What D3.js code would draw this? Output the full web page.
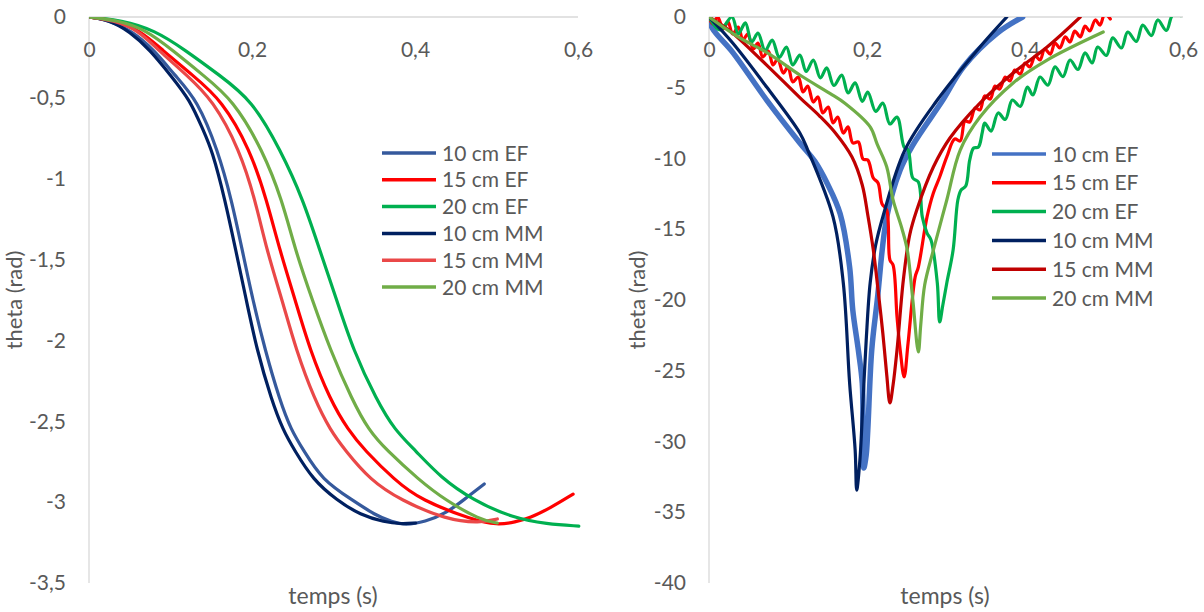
<!DOCTYPE html>
<html><head><meta charset="utf-8">
<script src="https://cdn.jsdelivr.net/npm/d3@7"></script>
<style>
body{margin:0;background:#fff}
svg text{font-family:Lato,"Open Sans",sans-serif;fill:#595959}
</style>
</head><body>
<svg id="c" width="1204" height="612"></svg>
<script>
// ---------- DATA ----------
const seriesNames = ["10 cm EF","15 cm EF","20 cm EF","10 cm MM","15 cm MM","20 cm MM"];
const xTicks = [0, 0.2, 0.4, 0.6];
const leftYTicks = [0,-0.5,-1,-1.5,-2,-2.5,-3,-3.5];
const rightYTicks = [0,-5,-10,-15,-20,-25,-30,-35,-40];
const xTitle = "temps (s)";
const yTitle = "theta (rad)";

// Left panel: theta (rad) vs time (s)
const left10EF = [[0,0],[0.025,-0.02],[0.052,-0.085],[0.080,-0.204],[0.105,-0.36],[0.133,-0.513],[0.158,-0.823],[0.175,-1.132],[0.188,-1.441],[0.201,-1.750],[0.216,-2.059],[0.234,-2.369],[0.248,-2.554],[0.263,-2.678],[0.286,-2.863],[0.323,-2.987],[0.351,-3.080],[0.372,-3.123],[0.388,-3.142],[0.412,-3.123],[0.439,-3.067],[0.461,-2.981],[0.485,-2.888]];
const left15EF = [[0,0],[0.03,-0.02],[0.062,-0.08],[0.090,-0.204],[0.127,-0.36],[0.163,-0.513],[0.198,-0.823],[0.218,-1.132],[0.234,-1.441],[0.253,-1.750],[0.271,-2.059],[0.296,-2.369],[0.318,-2.554],[0.338,-2.678],[0.375,-2.863],[0.407,-2.987],[0.471,-3.110],[0.501,-3.142],[0.523,-3.123],[0.541,-3.098],[0.566,-3.036],[0.594,-2.950]];
const left20EF = [[0,0],[0.04,-0.02],[0.08,-0.08],[0.118,-0.204],[0.160,-0.36],[0.200,-0.513],[0.235,-0.823],[0.263,-1.132],[0.283,-1.441],[0.304,-1.750],[0.324,-2.059],[0.353,-2.369],[0.375,-2.554],[0.400,-2.678],[0.432,-2.850],[0.471,-2.987],[0.520,-3.098],[0.562,-3.135],[0.601,-3.148]];
const left10MM = [[0,0],[0.025,-0.02],[0.050,-0.09],[0.075,-0.204],[0.100,-0.36],[0.124,-0.513],[0.140,-0.70],[0.151,-0.823],[0.167,-1.132],[0.180,-1.441],[0.193,-1.750],[0.206,-2.059],[0.224,-2.369],[0.238,-2.554],[0.252,-2.678],[0.275,-2.863],[0.304,-2.987],[0.333,-3.080],[0.363,-3.123],[0.382,-3.135],[0.401,-3.129]];
const left15MM = [[0,0],[0.03,-0.02],[0.06,-0.08],[0.085,-0.204],[0.12,-0.36],[0.152,-0.513],[0.185,-0.823],[0.204,-1.132],[0.218,-1.441],[0.237,-1.750],[0.254,-2.059],[0.277,-2.369],[0.296,-2.554],[0.314,-2.678],[0.345,-2.863],[0.382,-2.987],[0.439,-3.110],[0.480,-3.129],[0.501,-3.104]];
const left20MM = [[0,0],[0.035,-0.02],[0.07,-0.08],[0.102,-0.204],[0.140,-0.36],[0.177,-0.513],[0.213,-0.823],[0.237,-1.132],[0.253,-1.441],[0.274,-1.750],[0.296,-2.059],[0.323,-2.369],[0.343,-2.554],[0.365,-2.678],[0.405,-2.863],[0.437,-2.987],[0.480,-3.110],[0.501,-3.129]];

// Right panel
const right10EF = [[0,0],[0.004,-0.78],[0.030,-2.5],[0.073,-5.87],[0.115,-8.9],[0.134,-10.2],[0.150,-11.8],[0.166,-13.9],[0.178,-17.67],[0.182,-20.71],[0.189,-23.53],[0.194,-25.87],[0.195,-29.40],[0.196,-31.87],[0.199,-30.95],[0.201,-29.19],[0.206,-23.53],[0.213,-20.00],[0.225,-14.13],[0.242,-10.81],[0.258,-9.05],[0.296,-5.87],[0.322,-3.53],[0.365,-1.13],[0.397,0]];
const right15EF = [[0,0],[0.005,-0.49],[0.011,0],[0.018,-0.85],[0.024,-0.35],[0.030,-1.20],[0.037,-0.71],[0.043,-1.63],[0.049,-1.20],[0.056,-2.26],[0.062,-1.84],[0.068,-2.83],[0.075,-2.40],[0.081,-3.39],[0.087,-2.97],[0.094,-3.96],[0.100,-3.53],[0.106,-4.59],[0.113,-4.24],[0.119,-5.30],[0.125,-4.88],[0.132,-6.01],[0.138,-5.65],[0.144,-6.78],[0.151,-6.36],[0.157,-7.49],[0.163,-7.07],[0.170,-8.20],[0.176,-7.77],[0.182,-8.90],[0.189,-8.83],[0.195,-10.04],[0.201,-10.11],[0.208,-11.38],[0.214,-11.73],[0.219,-13.20],[0.225,-13.64],[0.229,-17.17],[0.233,-17.53],[0.238,-21.20],[0.242,-23.53],[0.247,-25.44],[0.252,-23.04],[0.261,-18.37],[0.265,-17.67],[0.276,-14.13],[0.284,-12.44],[0.292,-11.31],[0.301,-9.89],[0.311,-8.62],[0.318,-8.76],[0.324,-7.35],[0.330,-7.42],[0.337,-6.43],[0.343,-6.57],[0.349,-5.58],[0.356,-5.80],[0.362,-4.88],[0.368,-5.09],[0.375,-4.24],[0.381,-4.52],[0.387,-3.75],[0.394,-4.03],[0.400,-3.25],[0.406,-3.53],[0.413,-2.76],[0.419,-3.04],[0.425,-2.26],[0.432,-2.62],[0.438,-1.84],[0.444,-2.19],[0.451,-1.41],[0.457,-1.77],[0.463,-0.99],[0.470,-1.41],[0.476,-0.64],[0.482,-0.99],[0.489,-0.21],[0.495,-0.57],[0.501,0.21],[0.508,-0.14]];
const right20EF = [[0,0],[0.014,-0.92],[0.029,0],[0.037,-1.20],[0.046,-0.42],[0.054,-1.77],[0.062,-1.13],[0.071,-2.37],[0.080,-1.63],[0.089,-2.86],[0.098,-2.12],[0.106,-3.39],[0.115,-2.69],[0.123,-3.85],[0.132,-3.04],[0.141,-4.31],[0.149,-3.60],[0.158,-4.84],[0.168,-4.10],[0.176,-5.37],[0.185,-4.66],[0.194,-5.97],[0.201,-5.30],[0.211,-6.68],[0.220,-6.08],[0.229,-7.56],[0.238,-7.07],[0.247,-9.19],[0.252,-9.40],[0.258,-11.38],[0.265,-11.66],[0.270,-14.13],[0.276,-15.27],[0.281,-15.76],[0.289,-18.80],[0.292,-21.55],[0.296,-20.35],[0.301,-18.80],[0.309,-16.47],[0.315,-12.93],[0.319,-12.23],[0.325,-11.94],[0.330,-10.11],[0.335,-9.26],[0.341,-9.19],[0.346,-8.13],[0.349,-7.49],[0.357,-8.06],[0.366,-6.78],[0.375,-7.24],[0.384,-5.87],[0.394,-6.32],[0.403,-4.95],[0.410,-5.51],[0.419,-4.24],[0.429,-4.81],[0.438,-3.53],[0.448,-4.21],[0.457,-3.04],[0.467,-3.71],[0.476,-2.54],[0.485,-3.25],[0.492,-2.12],[0.503,-2.72],[0.511,-1.48],[0.522,-2.19],[0.530,-1.06],[0.541,-1.73],[0.549,-0.57],[0.560,-1.31],[0.568,-0.21],[0.579,-0.95],[0.587,0.14],[0.597,0.1]];
const right10MM = [[0,0],[0.030,-1.84],[0.073,-4.95],[0.115,-8.20],[0.125,-9.40],[0.157,-14.13],[0.170,-18.80],[0.178,-25.87],[0.185,-30.60],[0.187,-33.43],[0.191,-31.31],[0.195,-27.07],[0.199,-22.83],[0.204,-18.80],[0.211,-16.11],[0.220,-14.13],[0.248,-9.40],[0.289,-5.87],[0.343,-2.12],[0.377,0]];
const right15MM = [[0,0],[0.027,-1.0],[0.073,-3.4],[0.115,-5.7],[0.140,-7.0],[0.160,-8.2],[0.181,-9.9],[0.194,-11.87],[0.201,-13.99],[0.208,-16.47],[0.214,-19.29],[0.220,-22.33],[0.225,-25.30],[0.229,-27.28],[0.233,-26.01],[0.238,-23.53],[0.246,-18.59],[0.254,-15.41],[0.263,-13.64],[0.284,-10.60],[0.305,-8.55],[0.343,-6.08],[0.385,-3.96],[0.428,-2.12],[0.470,0]];
const right20MM = [[0,0],[0.039,-1.48],[0.073,-2.5],[0.115,-4.1],[0.153,-5.4],[0.172,-6.1],[0.204,-7.77],[0.213,-9.00],[0.225,-10.60],[0.233,-12.93],[0.244,-14.91],[0.251,-16.47],[0.258,-20.00],[0.265,-23.67],[0.268,-21.77],[0.273,-18.94],[0.284,-16.47],[0.301,-12.93],[0.318,-9.40],[0.343,-7.07],[0.385,-4.66],[0.428,-3.04],[0.499,-1.06]];

// ---------- STYLE ----------
const leftColors  = ["#35599C","#FF0000","#00B050","#002060","#EA4848","#70AD47"];
const rightColors = ["#4472C4","#FF0000","#00B050","#002060","#C00000","#70AD47"];

const locale = d3.formatLocale({decimal:",",thousands:" ",grouping:[3],currency:["","€"],minus:"-"});
const fmt = locale.format("~g");

const svg = d3.select("#c");

function panel(cfg){
  const x = d3.scaleLinear().domain([0,0.6]).range([cfg.x0,cfg.x1]);
  const y = d3.scaleLinear().domain(cfg.yDomain).range([583,17]);
  const g = svg.append("g");
  const clipId = "clip"+cfg.id;
  svg.append("clipPath").attr("id",clipId).append("rect")
    .attr("x",cfg.x0).attr("y",17).attr("width",cfg.x1-cfg.x0+10).attr("height",566);

  g.append("line").attr("x1",cfg.x0).attr("x2",cfg.x1).attr("y1",y(0)).attr("y2",y(0))
    .attr("stroke","#d9d9d9").attr("stroke-width",1.3);
  g.append("line").attr("x1",cfg.x0).attr("x2",cfg.x0).attr("y1",17).attr("y2",583)
    .attr("stroke","#d9d9d9").attr("stroke-width",1.3);

  const xa = g.append("g").attr("transform",`translate(0,${y(0)})`)
    .call(d3.axisBottom(x).tickValues(xTicks).tickFormat(fmt).tickSize(0).tickPadding(25));
  const ya = g.append("g").attr("transform",`translate(${cfg.x0},0)`)
    .call(d3.axisLeft(y).tickValues(cfg.yTicks).tickFormat(fmt).tickSize(0).tickPadding(23));
  [xa,ya].forEach(a=>{a.select(".domain").remove();
    a.selectAll("text").attr("fill","#595959").style("font-size","21px").style("font-family","Lato,'Open Sans',sans-serif");});

  g.append("text").attr("x",cfg.xTitleX).attr("y",604).attr("text-anchor","middle")
    .style("font-size","23px").text(xTitle);
  g.append("text").attr("transform",`translate(${cfg.yTitleX},300) rotate(-90)`)
    .attr("text-anchor","middle").style("font-size","22px").text(yTitle);

  const line = d3.line().x(d=>x(d[0])).y(d=>y(d[1])).curve(cfg.curve);
  const lg = g.append("g").attr("clip-path",`url(#${clipId})`);
  cfg.series.forEach((s,i)=>{
    lg.append("path").datum(s).attr("d",line).attr("fill","none")
      .attr("stroke",cfg.colors[i]).attr("stroke-width",cfg.widths[i])
      .attr("stroke-linejoin","round").attr("stroke-linecap","round");
  });

  const leg = g.append("g");
  seriesNames.forEach((n,i)=>{
    const yy = cfg.legY + i*cfg.legStep;
    leg.append("line").attr("x1",cfg.legX).attr("x2",cfg.legX+54).attr("y1",yy).attr("y2",yy)
      .attr("stroke",cfg.colors[i]).attr("stroke-width",3.5);
    leg.append("text").attr("x",cfg.legX+60).attr("y",yy).attr("dy","0.36em")
      .style("font-size","21px").text(n);
  });
}

panel({id:"L",x0:89,x1:578,yDomain:[-3.5,0],yTicks:leftYTicks,curve:d3.curveBasis,
  series:[left10EF,left15EF,left20EF,left10MM,left15MM,left20MM],
  colors:leftColors,widths:[3.2,3.2,3.2,3.2,3.2,3.2],
  xTitleX:333,yTitleX:22,legX:382,legY:153,legStep:26.8});
panel({id:"R",x0:709,x1:1183,yDomain:[-40,0],yTicks:rightYTicks,curve:d3.curveCatmullRom.alpha(0.5),
  series:[right10EF,right15EF,right20EF,right10MM,right15MM,right20MM],
  colors:rightColors,widths:[5.5,3.2,3.2,3.2,3.2,3.2],
  xTitleX:945,yTitleX:645,legX:992,legY:154,legStep:28.8});
</script>
</body></html>
